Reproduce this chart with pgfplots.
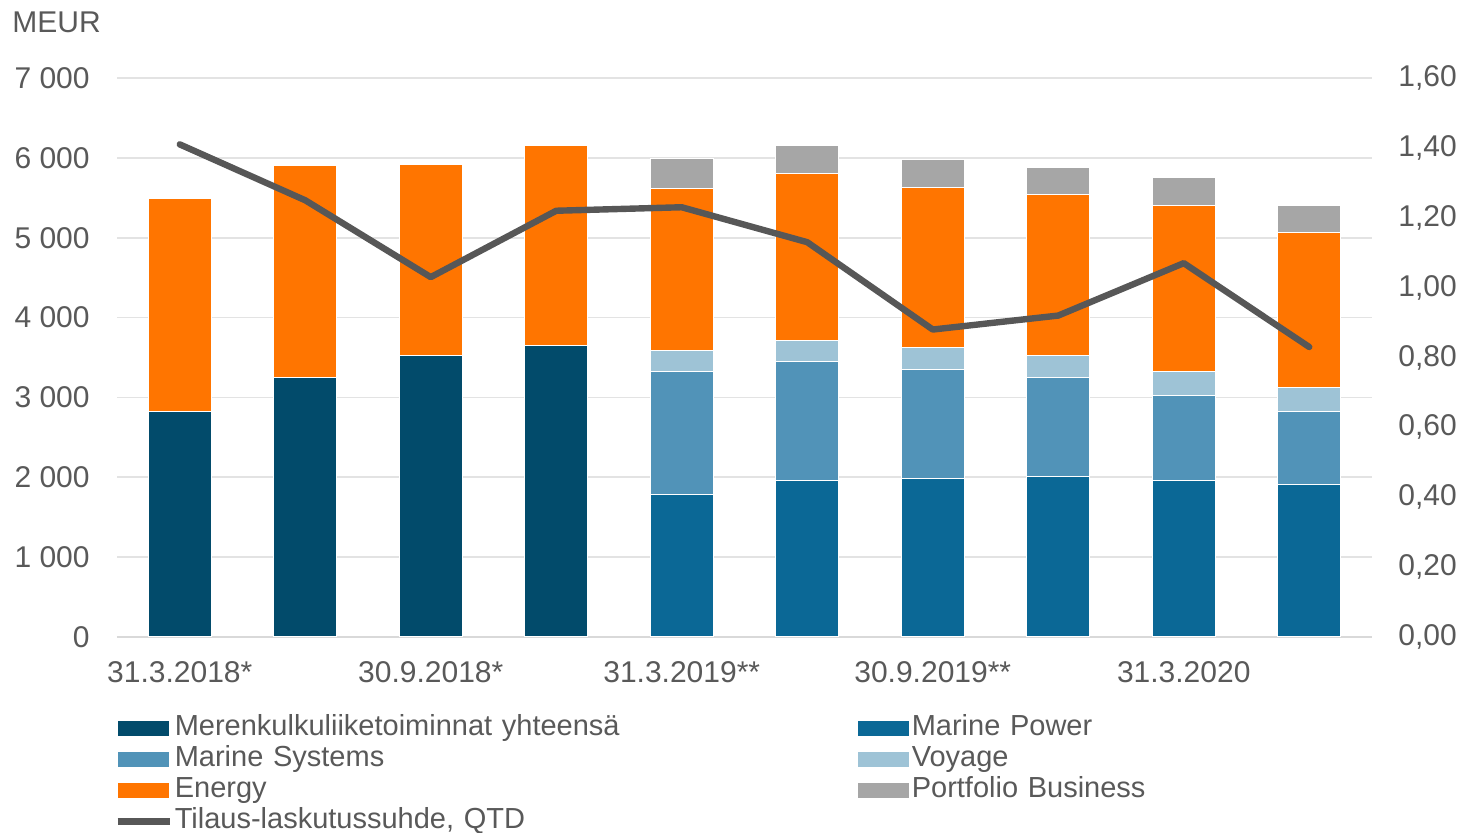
\documentclass[border=0pt]{standalone}
\usepackage{fontspec}
\setmainfont{Liberation Sans}
\usepackage{pgfplots}
\pgfplotsset{compat=1.18}
\usepackage{pgfplotstable}

\definecolor{txt}{HTML}{595959}
\definecolor{gridc}{HTML}{E3E3E3}
\definecolor{axc}{HTML}{D9D9D9}
\definecolor{meren}{HTML}{024B6B}
\definecolor{mpow}{HTML}{0B6896}
\definecolor{msys}{HTML}{5193B8}
\definecolor{voy}{HTML}{9EC3D6}
\definecolor{ener}{HTML}{FF7500}
\definecolor{port}{HTML}{A6A6A6}
\definecolor{ratio}{HTML}{575757}

% tilauskanta (MEUR) ja tilaus-laskutussuhde
\pgfplotstableread{
x meren mp   ms   voy en   pb  ratio
0 2820  0    0    0   2665 0   1.41
1 3245  0    0    0   2665 0   1.25
2 3530  0    0    0   2390 0   1.03
3 3645  0    0    0   2515 0   1.22
4 0     1790 1530 265 2030 375 1.23
5 0     1965 1480 265 2100 350 1.13
6 0     1980 1375 275 2005 350 0.88
7 0     2015 1240 275 2005 340 0.92
8 0     1965 1055 300 2080 350 1.07
9 0     1905 915  300 1940 340 0.83
}\data

\pgfplotsset{
  barleg/.style={legend image code/.code={\fill[##1] (0pt,-4pt) rectangle (26pt,4pt);}},
  seg/.style={fill=#1, draw=white, line width=0.5pt, barleg},
}

\begin{document}
\begin{tikzpicture}
\begin{axis}[
  name=ax, at={(0,0)}, anchor=south west,
  scale only axis, width=627.5pt, height=279.5pt,
  xmin=-0.5, xmax=9.5, ymin=0, ymax=7000,
  ybar stacked, bar width=31.5pt,
  axis x line*=bottom, axis y line*=left,
  x axis line style={draw=axc, line width=0.8pt, -},
  y axis line style={draw=none},
  major tick length=0pt,
  ymajorgrids, grid style={draw=gridc, line width=0.8pt},
  xtick={0,2,4,6,8},
  xticklabels={31.3.2018*,30.9.2018*,31.3.2019**,30.9.2019**,31.3.2020},
  ytick={0,1000,...,7000},
  yticklabels={0,1 000,2 000,3 000,4 000,5 000,6 000,7 000},
  tick label style={font=\fontsize{15}{18}\selectfont, text=txt},
  xticklabel style={anchor=center, yshift=-17.5pt},
  yticklabel style={anchor=east, inner xsep=0pt, xshift=-13.5pt},
  legend columns=2,
  legend style={at={(0,0)}, anchor=north west, xshift=-1.5pt, yshift=-37.75pt,
    draw=none, fill=none, inner sep=0pt, row sep=0pt,
    font=\fontsize{14.5}{17}\selectfont, text=txt,
    nodes={inner xsep=1pt, inner ysep=1.25pt, text height=10pt, text depth=3pt, text width=340pt}},
  legend cell align=left,
]
\addplot[seg=meren] table[x=x, y=meren]{\data};
\addplot[seg=mpow]  table[x=x, y=mp]{\data};
\addplot[seg=msys]  table[x=x, y=ms]{\data};
\addplot[seg=voy]   table[x=x, y=voy]{\data};
\addplot[seg=ener]  table[x=x, y=en]{\data};
\addplot[seg=port]  table[x=x, y=pb]{\data};
\addlegendimage{legend image code/.code={\draw[ratio, line width=3.2pt] (0pt,0pt) -- (26pt,0pt);}}
\legend{Merenkulkuliiketoiminnat yhteensä, Marine Power, Marine Systems, Voyage, Energy, Portfolio Business, {Tilaus-laskutussuhde, QTD}}
\end{axis}

\begin{axis}[
  at={(0,0)}, anchor=south west,
  scale only axis, width=627.5pt, height=279.5pt,
  xmin=-0.5, xmax=9.5, ymin=0, ymax=1.6,
  axis x line=none, axis y line*=right,
  y axis line style={draw=none},
  major tick length=0pt,
  ytick={0,0.2,...,1.6},
  yticklabels={{0,00},{0,20},{0,40},{0,60},{0,80},{1,00},{1,20},{1,40},{1,60}},
  tick label style={font=\fontsize{15}{18}\selectfont, text=txt},
  yticklabel style={anchor=west, inner xsep=0pt, xshift=13pt},
]
\addplot[ratio, line width=3.2pt, line join=round, line cap=round] table[x=x, y=ratio]{\data};
\end{axis}

\node[anchor=west, inner sep=0pt, text=txt, font=\fontsize{15}{18}\selectfont]
  at ([xshift=-52.5pt, yshift=28pt]ax.north west) {MEUR};

\pgfresetboundingbox
\path (-58.5pt,-98pt) rectangle (670.5pt,318.5pt);
\end{tikzpicture}
\end{document}
